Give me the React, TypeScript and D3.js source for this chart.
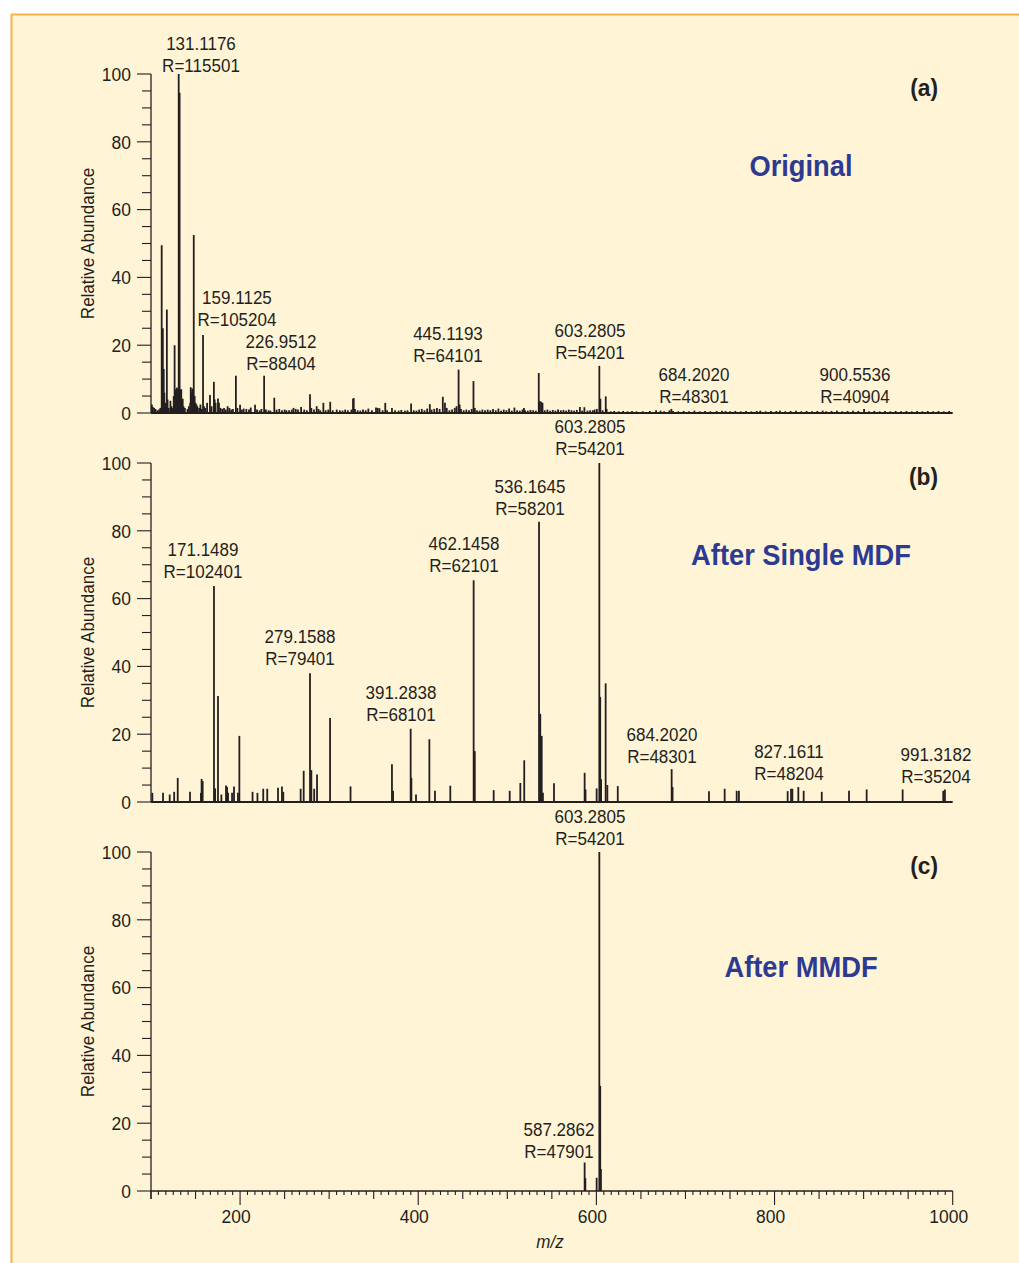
import React from 'react';
import * as d3 from 'd3';

// ---------- DATA ----------
const xTickLabels = [200, 400, 600, 800, 1000];
const yTickLabels = [0, 20, 40, 60, 80, 100];
const panelTitles = ['Original', 'After Single MDF', 'After MMDF'];
const panelTags = ['(a)', '(b)', '(c)'];

// [m/z, relative abundance]
const peaksA: [number, number][] = [
  [101, 2.5], [102, 1.8], [103.5, 1.5], [105, 1.2], [107, 0.8], [109, 1.0], [110.5, 1.5],
  [112, 49.5], [113.3, 25], [114.3, 13], [115, 6], [116, 3], [117.8, 30.5], [118.6, 4],
  [120, 1.5], [121.8, 3.6], [123, 2], [124.5, 1.5], [125.5, 5], [126.5, 20], [127.3, 6],
  [128, 7], [129, 7.5], [130, 7], [131.1, 100], [132.1, 94.5], [133, 7], [134, 7],
  [135.6, 4.2], [136.5, 2], [138, 1.5], [141, 1.2], [142.5, 2], [144, 3], [144.6, 7.6],
  [145.5, 6], [146.3, 7.2], [147.2, 4], [148, 52.5], [149, 5], [150, 3], [151, 2.5],
  [152, 2], [154, 1.5], [155.5, 2.5], [157, 1.2], [158.4, 23], [159.5, 2], [161, 1.5],
  [163, 3], [166.2, 5.3], [168, 2], [170.6, 9.2], [171.5, 4], [172.5, 3], [175.2, 4.3],
  [176.3, 3], [178, 1.5], [180, 1.2], [182, 1.5], [184, 1], [186, 2], [188, 1.5],
  [190, 1], [192, 1.2], [195.3, 11], [197, 1.5], [200, 2.4], [202, 1], [204, 1.3],
  [207, 1.2], [210, 1], [212, 1.6], [216.8, 2.4], [219, 1], [222, 0.8], [224, 1.2],
  [227, 11], [229, 1], [232, 0.8], [234, 0.7], [238.4, 4.5], [241, 1], [244, 1.2],
  [247, 0.8], [250, 1], [252, 0.8], [255, 0.8], [258, 1], [260, 1.5], [262.5, 1.2],
  [265, 1], [268.5, 1.8], [272, 1], [275, 0.8], [278.5, 5.5], [280, 1.5], [283, 1],
  [286, 2], [288, 1.2], [290, 0.8], [293.5, 3], [296, 0.8], [299, 1], [301.2, 3.3],
  [304, 0.8], [308.5, 1], [312, 0.8], [315, 0.7], [318, 1], [321, 0.8], [325, 1],
  [326.8, 4.2], [327.6, 4.4], [329, 1.2], [332, 0.8], [335, 0.7], [338, 1], [341, 0.8],
  [344, 1.3], [348, 0.8], [352.6, 1.6], [354.5, 1.5], [356.5, 1.4], [360, 0.8], [363, 3],
  [365, 0.8], [370.5, 1.5], [374, 0.8], [378, 0.7], [381, 0.9], [385, 0.7], [388, 0.8],
  [392, 2.8], [395, 0.8], [398, 0.7], [401, 1], [404, 1.2], [407, 0.8], [410, 1.3],
  [413, 2.6], [415, 1], [418, 1.2], [421, 1.5], [424, 1.2], [427.6, 4.8], [430, 3],
  [432, 1.5], [435, 0.8], [438, 1], [441, 1.5], [443, 2], [445.3, 12.8], [446.5, 2.5],
  [448, 1.2], [451, 0.8], [454, 1], [457, 0.8], [460, 1.2], [462, 9.4], [463.5, 1.5],
  [466, 0.8], [469, 0.7], [472, 1], [475, 0.8], [478, 1], [481, 0.8], [484, 1.2],
  [487, 0.8], [490, 1.3], [493, 0.7], [496, 1], [499, 0.8], [502, 1.3], [505, 0.7],
  [508, 1.6], [511, 0.8], [514, 0.7], [517, 1], [518.7, 1.5], [520, 0.8], [523, 0.7],
  [526, 0.9], [529, 0.8], [532, 0.7], [535.3, 11.8], [536.5, 3.5], [538, 3.3], [539.5, 3],
  [542, 0.8], [545, 1], [548, 0.7], [551, 0.9], [554, 0.7], [557, 1], [560, 0.8],
  [563, 0.9], [566, 0.7], [569, 1], [572, 0.8], [575, 0.7], [578, 0.9], [581.5, 1.8],
  [584, 0.7], [586.5, 1.7], [590, 0.7], [593, 0.8], [596, 0.8], [598, 1], [600.5, 1.2],
  [603.3, 13.9], [604.5, 4.2], [607, 0.8], [610.5, 4.9], [611.5, 1.2], [616, 0.5],
  [620, 0.6], [625, 0.5], [630, 0.6], [635, 0.5], [640, 0.6], [645, 0.5], [652, 0.5],
  [660, 0.6], [667, 0.8], [672, 0.7], [676, 0.5], [682, 0.8], [684.2, 1.2], [686, 0.6],
  [692, 0.5], [698, 0.6], [704, 0.5], [710, 0.7], [716, 0.5], [722, 0.6], [728, 0.5],
  [735, 0.6], [741, 0.7], [745, 0.6], [750, 0.5], [756, 0.6], [762, 0.5], [768, 0.6],
  [774, 0.5], [780, 0.6], [784, 0.7], [790, 0.5], [796, 0.6], [802, 0.6], [806, 0.7],
  [812, 0.5], [818, 0.6], [824, 0.7], [830, 0.5], [836, 0.6], [842, 0.5], [848, 0.6],
  [854, 0.7], [858, 0.5], [864, 0.6], [870, 0.7], [876, 0.5], [882, 0.6], [888, 0.7],
  [894, 0.6], [900.5, 1.2], [906, 0.5], [912, 0.6], [918, 0.5], [924, 0.6], [930, 0.5],
  [936, 0.6], [942, 0.5], [948, 0.6], [954, 0.5], [960, 0.6], [966, 0.5], [972, 0.6],
  [978, 0.5], [984, 0.6], [990, 0.5], [996, 0.6],
];

const peaksB: [number, number][] = [
  [101.5, 2.7], [113.5, 2.7], [121, 2.2], [126, 3], [130, 7.1], [143.8, 3], [156, 2.7],
  [156.8, 6.8], [158, 6.2], [170.7, 63.7], [172, 4], [175.2, 31.3], [179, 2.2], [184.2, 4.9],
  [185.4, 4.4], [186.5, 2.7], [191, 2.7], [193.2, 4.6], [197.6, 2.7], [199.2, 19.5],
  [214, 3], [219.5, 2.7], [226, 3.9], [230.5, 3.9], [242.6, 4.2], [247, 4.6], [248.5, 3],
  [268, 3.9], [271.4, 9.2], [278.5, 38], [280, 9.4], [283.2, 3.9], [286.4, 8.1], [301, 24.8],
  [324, 4.6], [370.5, 11.1], [371.8, 3.3], [391.5, 21.6], [392.3, 7.1], [397.5, 2.2],
  [412.5, 18.5], [418.8, 3.3], [436, 4.8], [462.2, 65.4], [463.5, 15], [484.7, 3.5],
  [502.7, 3.3], [514.6, 5.6], [519, 12.3], [535.6, 82.7], [537, 26], [538.6, 19.5],
  [540, 2.7], [552.4, 5.5], [586.8, 8.6], [587.8, 3.7], [600.3, 4], [603.3, 100],
  [604.3, 31], [605.3, 6.7], [610.4, 35], [612.3, 5], [624, 4.7], [684.5, 9.7], [685.5, 4.4],
  [726.4, 3.2], [744, 3.9], [757.5, 3.3], [760, 3.3], [814.7, 3.2], [818.5, 3.9], [820, 3.9],
  [826.7, 4.4], [832.7, 3.3], [853, 3], [883.6, 3.3], [903.4, 3.7], [943.8, 3.7],
  [989.4, 3.3], [991.3, 3.7],
];

const peaksC: [number, number][] = [
  [586.8, 8.4], [587.6, 3.8], [600.3, 3.9], [603.3, 100], [604.3, 31], [605.1, 6.5],
];

// label text and anchor (m/z, abundance of second text line)
type Lab = { mz: string; r: string; at: [number, number] };
const labelsA: Lab[] = [
  { mz: '131.1176', r: 'R=115501', at: [156.1, 100.6] },
  { mz: '159.1125', r: 'R=105204', at: [196.5, 25.7] },
  { mz: '226.9512', r: 'R=88404', at: [246, 12.8] },
  { mz: '445.1193', r: 'R=64101', at: [433.4, 15.1] },
  { mz: '603.2805', r: 'R=54201', at: [592.8, 16] },
  { mz: '684.2020', r: 'R=48301', at: [709.6, 3] },
  { mz: '900.5536', r: 'R=40904', at: [890.3, 3] },
];
const labelsB: Lab[] = [
  { mz: '603.2805', r: 'R=54201', at: [592.8, 102.4] },
  { mz: '536.1645', r: 'R=58201', at: [525.5, 84.6] },
  { mz: '462.1458', r: 'R=62101', at: [451.4, 67.7] },
  { mz: '171.1489', r: 'R=102401', at: [158.4, 66] },
  { mz: '279.1588', r: 'R=79401', at: [267.3, 40.5] },
  { mz: '391.2838', r: 'R=68101', at: [380.6, 23.9] },
  { mz: '684.2020', r: 'R=48301', at: [673.6, 11.5] },
  { mz: '827.1611', r: 'R=48204', at: [816.2, 6.4] },
  { mz: '991.3182', r: 'R=35204', at: [981.2, 5.5] },
];
const labelsC: Lab[] = [
  { mz: '603.2805', r: 'R=54201', at: [592.8, 102] },
  { mz: '587.2862', r: 'R=47901', at: [558, 9.6] },
];
const titleAbund = [70, 70, 63];

// ---------- LAYOUT ----------
const W = 1019;
const H = 1263;
const FONT = '"Liberation Sans", Arial, sans-serif';
const INK = '#231f20';
const BLUE = '#2d3a92';
const BG = '#fff4d6';
const ORANGE = '#f8b248';
const panelTop0 = 74;
const panelGap = 389;
const panelH = 339;
const SX = 0.92; // condensed look

const x = d3.scaleLinear().domain([100, 1000]).range([151, 952.7]);

function Txt(props: {
  x: number; y: number; anchor?: string; size: number; bold?: boolean; italic?: boolean;
  fill?: string; rotate?: number; sx?: number; dy?: string; children: React.ReactNode;
}) {
  const { x, y, anchor = 'middle', size, bold, italic, fill = INK, rotate, sx = SX, dy, children } = props;
  const tr = `translate(${x},${y})${rotate ? ` rotate(${rotate})` : ''} scale(${sx},1)`;
  return (
    <text
      transform={tr}
      textAnchor={anchor}
      fontSize={size}
      fontWeight={bold ? 'bold' : 'normal'}
      fontStyle={italic ? 'italic' : 'normal'}
      fill={fill}
      fontFamily={FONT}
      dy={dy}
    >
      {children}
    </text>
  );
}

function Panel({ i, peaks, labels, showX }: { i: number; peaks: [number, number][]; labels: Lab[]; showX: boolean }) {
  const top = panelTop0 + i * panelGap;
  const y = d3.scaleLinear().domain([0, 100]).range([top + panelH, top]);
  const yMinor = d3.range(0, 101, 5);
  const x0 = x(100);
  const x1 = x(1000);
  const base = y(0);
  const minorX = d3.range(0, 109).map((k) => 100 + (k * 50) / 6).filter((v) => v <= 1000.001);
  const fs = 18.5;
  return (
    <g>
      {/* y axis */}
      <line x1={x0} x2={x0} y1={y(100)} y2={showX ? base + 8 : base} stroke={INK} strokeWidth={1.3} />
      {yMinor.map((v) => {
        const major = v % 20 === 0;
        return (
          <line key={v} x1={x0 - (major ? 14 : 9)} x2={x0} y1={y(v)} y2={y(v)} stroke={INK} strokeWidth={1.1} />
        );
      })}
      {yTickLabels.map((v) => (
        <Txt key={v} x={x0 - 20} y={y(v)} dy="0.36em" anchor="end" size={fs + 0.5}>
          {v}
        </Txt>
      ))}
      <Txt x={94} y={(y(0) + y(100)) / 2} rotate={-90} size={fs}>
        Relative Abundance
      </Txt>
      {/* peaks */}
      {peaks.map(([m, a], k) => (
        <line key={k} x1={x(m)} x2={x(m)} y1={base} y2={y(a)} stroke={INK} strokeWidth={1.8} />
      ))}
      {/* baseline */}
      <line x1={x0} x2={x1} y1={base} y2={base} stroke={INK} strokeWidth={showX ? 1.4 : 1.8} />
      {showX && (
        <g>
          {minorX.map((v, k) => {
            const isLabel = xTickLabels.some((t) => Math.abs(t - v) < 0.01);
            const isMed = Math.abs(v / 50 - Math.round(v / 50)) < 0.001;
            const len = isLabel ? 14 : isMed ? 8 : 4;
            return <line key={k} x1={x(v)} x2={x(v)} y1={base} y2={base + len} stroke={INK} strokeWidth={1.1} />;
          })}
          {xTickLabels.map((v) => (
            <Txt key={v} x={x(v) - 4} y={base + 32} size={fs + 0.5}>
              {v}
            </Txt>
          ))}
          <Txt x={x(548)} y={base + 57} size={18.5} italic>
            m/z
          </Txt>
        </g>
      )}
      {/* peak labels */}
      {labels.map((l, k) => (
        <g key={k}>
          <Txt x={x(l.at[0])} y={y(l.at[1]) - 22} size={fs}>
            {l.mz}
          </Txt>
          <Txt x={x(l.at[0])} y={y(l.at[1])} size={fs}>
            {l.r}
          </Txt>
        </g>
      ))}
      {/* title & tag */}
      <Txt x={x(829.7)} y={y(titleAbund[i])} size={30} bold fill={BLUE} sx={0.91}>
        {panelTitles[i]}
      </Txt>
      <Txt x={x(983.5)} y={y(93.5)} anchor="end" size={24} bold sx={0.95}>
        {panelTags[i]}
      </Txt>
    </g>
  );
}

export default function App() {
  return (
    <svg width={W} height={H} style={{ position: 'absolute', left: 0, top: 0, background: '#ffffff' }}>
      <rect x={0} y={0} width={W} height={H} fill="#ffffff" />
      <rect x={11} y={14} width={W - 11} height={H - 14} fill={BG} />
      <line x1={11} x2={W} y1={14.5} y2={14.5} stroke={ORANGE} strokeWidth={2} />
      <line x1={11.5} x2={11.5} y1={14} y2={H} stroke={ORANGE} strokeWidth={2} />
      <Panel i={0} peaks={peaksA} labels={labelsA} showX={false} />
      <Panel i={1} peaks={peaksB} labels={labelsB} showX={false} />
      <Panel i={2} peaks={peaksC} labels={labelsC} showX={true} />
    </svg>
  );
}
